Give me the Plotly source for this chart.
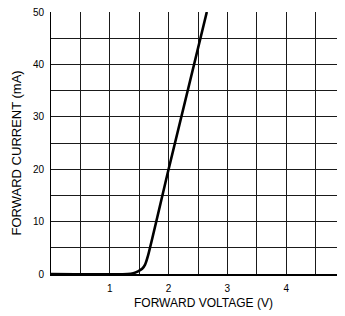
import plotly.graph_objects as go

# Forward voltage (V) vs forward current (mA)
voltage = [0.0, 1.30, 1.40, 1.48, 1.55, 1.60, 1.65, 2.00, 2.65]
current = [0.0, 0.0, 0.15, 0.5, 1.0, 1.8, 3.5, 20.0, 50.0]

x_tick_vals = [0, 0.5, 1, 1.5, 2, 2.5, 3, 3.5, 4, 4.5, 5]
x_tick_text = ["", "", "1", "", "2", "", "3", "", "4", "", "5"]
y_tick_vals = [0, 5, 10, 15, 20, 25, 30, 35, 40, 45, 50]
y_tick_text = ["0", "", "10", "", "20", "", "30", "", "40", "", "50"]

x_title = "FORWARD VOLTAGE (V)"
y_title = "FORWARD CURRENT (mA)"

fig = go.Figure()
fig.add_trace(go.Scatter(
    x=voltage, y=current, mode="lines",
    line=dict(color="#000000", width=2.6, shape="spline", smoothing=0.6),
    showlegend=False, hoverinfo="skip",
))

font_family = "Liberation Sans, Arial, sans-serif"
fig.update_layout(
    width=337, height=308,
    margin=dict(l=43, r=0, t=4, b=42),
    paper_bgcolor="white", plot_bgcolor="white",
    font=dict(family=font_family, color="#000000", size=10),
    xaxis=dict(
        range=[0, 5], tickmode="array", tickvals=x_tick_vals, ticktext=x_tick_text,
        showgrid=True, gridcolor="#1a1a1a", gridwidth=1, zeroline=False,
        showline=True, linecolor="#000000", linewidth=2,
        ticks="", ticklabelstandoff=4, tickfont=dict(size=10),
        ticklabeloverflow="allow", automargin=False,
    ),
    yaxis=dict(
        range=[0, 50], tickmode="array", tickvals=y_tick_vals, ticktext=y_tick_text,
        showgrid=True, gridcolor="#1a1a1a", gridwidth=1, zeroline=False,
        showline=True, linecolor="#000000", linewidth=1,
        ticks="", ticklabelstandoff=4, tickfont=dict(size=10),
        ticklabeloverflow="allow", automargin=False,
    ),
    annotations=[
        dict(text=x_title, xref="paper", yref="paper", x=0.519, y=-0.111,
             xanchor="center", yanchor="middle", showarrow=False,
             font=dict(size=12)),
        dict(text=y_title, xref="paper", yref="paper", x=-0.1463, y=0.462,
             xanchor="left", yanchor="middle", showarrow=False, textangle=-90,
             borderpad=0, font=dict(size=13)),
    ],
)

fig.write_html("out.html")
